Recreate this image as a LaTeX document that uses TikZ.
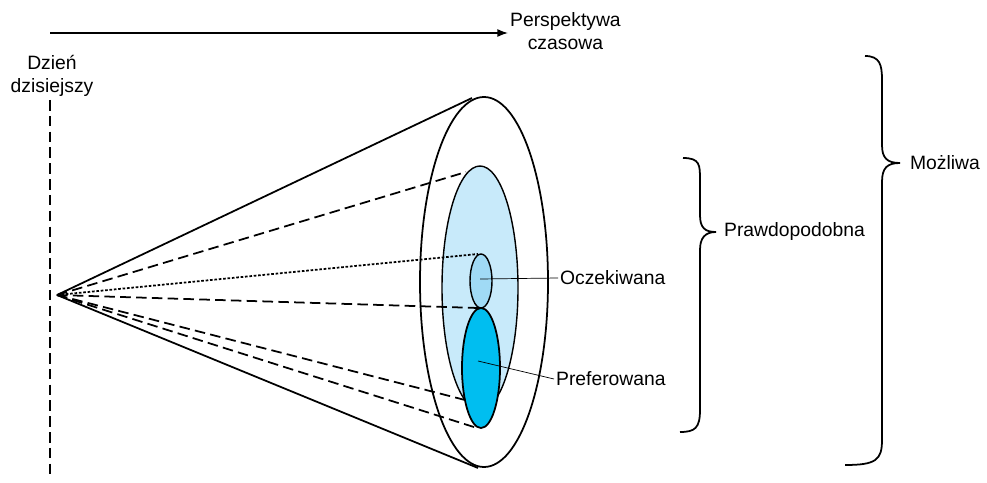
\documentclass[tikz,border=0pt]{standalone}
\usepackage{fontspec}
\setmainfont{Liberation Sans}
\usetikzlibrary{arrows.meta,positioning}
\definecolor{paleblue}{RGB}{200,234,250}
\definecolor{midblue}{RGB}{160,218,245}
\definecolor{deepblue}{RGB}{0,190,240}
\tikzset{
  lbl/.style={font=\fontsize{11}{13}\selectfont,align=center,inner sep=1pt},
  ray/.style={line width=1pt,dash pattern=on 6pt off 3pt},
  dotray/.style={line width=1pt,dash pattern=on 1.5pt off 1pt},
  edge/.style={line width=1pt}
}
\begin{document}
\begin{tikzpicture}[x=0.02cm,y=-0.02cm]
    \useasboundingbox (0,0) rectangle (987,483);
    % Time axis
    \coordinate (start) at (50,33);
    \coordinate (end) at (508,33);
    \draw[line width=0.8pt,-{Latex[length=6pt]}] (start) -- (end);
    \node[lbl,anchor=west] (axis) at (508,31) {Perspektywa\\czasowa};
    \node[lbl] (today) at (52,76) {Dzień\\dzisiejszy};
    \coordinate (lineend) at (50,478);
    \draw[edge,dash pattern=on 6pt off 3pt] (50,100) -- (lineend);

    % Cone
    \coordinate (apex) at (57,295);
    \draw[edge] (apex) -- (472,98);
    \draw[edge] (apex) -- (478,468);
    \draw[edge,fill=white] (484,282) ellipse [x radius=64,y radius=185];
    \draw[line width=0.8pt,fill=paleblue] (480,288) ellipse [x radius=38,y radius=122];
    \draw[line width=0.8pt,fill=midblue] (481,281) ellipse [x radius=11,y radius=27];
    \draw[edge,fill=deepblue] (481,368) ellipse [x radius=19,y radius=60];

    % Rays
    \draw[ray] (apex) -- (466,172);
    \draw[dotray] (apex) -- (478,254);
    \draw[ray] (apex) -- (478,308);
    \draw[ray] (apex) -- (465,400);
    \draw[ray] (apex) -- (477,428);

    % Labels
    \node[lbl,anchor=west] (expected) at (558,278) {Oczekiwana};
    \node[lbl,anchor=west] (preferred) at (554,379) {Preferowana};
    \draw (480,279) -- (expected.west);
    \draw (478,361) -- (preferred.west);

    % Braces
    \draw[edge] (683,158) .. controls (700,158) and (700,165) .. (700,180)
      -- (700,215) .. controls (700,228) and (705,232) .. (716,232)
      .. controls (705,232) and (700,238) .. (700,250)
      -- (700,410) .. controls (700,428) and (695,432) .. (680,432);
    \node[lbl,anchor=west] (likely) at (722,232) {Prawdopodobna};
    \draw[edge] (865,56) .. controls (880,56) and (882,65) .. (882,80)
      -- (882,145) .. controls (882,158) and (887,163) .. (900,163)
      .. controls (887,163) and (882,168) .. (882,182)
      -- (882,440) .. controls (882,460) and (876,465) .. (845,465);
    \node[lbl,anchor=west] (possible) at (908,163) {Możliwa};
\end{tikzpicture}
\end{document}
